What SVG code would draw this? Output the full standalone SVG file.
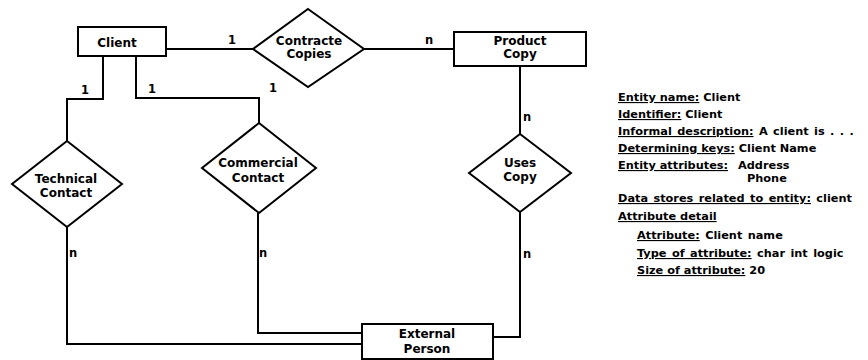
<svg xmlns="http://www.w3.org/2000/svg" width="868" height="360" viewBox="0 0 868 360">
<style>
.box{fill:#fff;stroke:#000;stroke-width:2}
.conn{fill:none;stroke:#000;stroke-width:2}
.lbl{font-family:"DejaVu Sans","Liberation Sans",sans-serif;font-weight:bold;font-size:12px;fill:#000;text-anchor:middle}
.card{font-family:"DejaVu Sans","Liberation Sans",sans-serif;font-weight:bold;font-size:11.5px;fill:#000;text-anchor:middle}
.info{font-family:"DejaVu Sans","Liberation Sans",sans-serif;font-weight:bold;font-size:11.3px;fill:#000}
.u{text-decoration:underline}
</style>
<rect width="868" height="360" fill="#fff"/>
<g id="connectors">
<path class="conn" d="M166,49 H253"/>
<path class="conn" d="M364,49 H454"/>
<path class="conn" d="M520,66 V134"/>
<path class="conn" d="M520,212 V337 H493"/>
<path class="conn" d="M103,56 V99 H67 V141"/>
<path class="conn" d="M67,227 V344 H362"/>
<path class="conn" d="M136,56 V98 H259 V123"/>
<path class="conn" d="M258,213 V333 H362"/>
<text class="card" x="232" y="44">1</text>
<text class="card" x="429" y="44">n</text>
<text class="card" x="527" y="121">n</text>
<text class="card" x="527" y="258">n</text>
<text class="card" x="85" y="94">1</text>
<text class="card" x="73" y="257">n</text>
<text class="card" x="152" y="93">1</text>
<text class="card" x="263" y="257">n</text>
<text class="card" x="273" y="92">1</text>
</g>
<g id="client">
<rect class="box" x="78" y="27" width="88" height="29"/>
<text class="lbl" x="117" y="47">Client</text>
</g>
<g id="contracte-copies">
<polygon class="box" points="308,9 364,49 308,87 253,49"/>
<text class="lbl" x="309" y="45">Contracte</text>
<text class="lbl" x="309" y="58">Copies</text>
</g>
<g id="product-copy">
<rect class="box" x="454" y="32" width="132" height="34"/>
<text class="lbl" x="520" y="45">Product</text>
<text class="lbl" x="520" y="58">Copy</text>
</g>
<g id="uses-copy">
<polygon class="box" points="520,134 571,173 520,212 469,173"/>
<text class="lbl" x="520" y="167">Uses</text>
<text class="lbl" x="520" y="181">Copy</text>
</g>
<g id="technical-contact">
<polygon class="box" points="67,141 122,184 67,227 12,184"/>
<text class="lbl" x="66" y="183">Technical</text>
<text class="lbl" x="66" y="197">Contact</text>
</g>
<g id="commercial-contact">
<polygon class="box" points="259,123 316,168 259,213 202,168"/>
<text class="lbl" x="258" y="167">Commercial</text>
<text class="lbl" x="258" y="182">Contact</text>
</g>
<g id="external-person">
<rect class="box" x="362" y="324" width="131" height="35"/>
<text class="lbl" x="427" y="338">External</text>
<text class="lbl" x="427" y="353">Person</text>
</g>
<g id="entity-description">
<text class="info" x="618" y="101"><tspan class="u">Entity name:</tspan> Client</text>
<text class="info" x="618" y="118"><tspan class="u">Identifier:</tspan> Client</text>
<text class="info" x="618" y="135" word-spacing="1.5"><tspan class="u">Informal description:</tspan> A client is . . .</text>
<text class="info" x="618" y="152"><tspan class="u">Determining keys:</tspan> Client Name</text>
<text class="info" x="618" y="169"><tspan class="u">Entity attributes:</tspan></text>
<text class="info" x="738" y="169">Address</text>
<text class="info" x="747" y="182">Phone</text>
<text class="info" x="618" y="202" word-spacing="1.5"><tspan class="u">Data stores related to entity:</tspan> client</text>
<text class="info" x="618" y="220"><tspan class="u">Attribute detail</tspan></text>
<text class="info" x="637" y="239" word-spacing="1.5"><tspan class="u">Attribute:</tspan> Client name</text>
<text class="info" x="637" y="257" word-spacing="1.5"><tspan class="u">Type of attribute:</tspan> char int logic</text>
<text class="info" x="637" y="274"><tspan class="u">Size of attribute:</tspan> 20</text>
</g>
</svg>
